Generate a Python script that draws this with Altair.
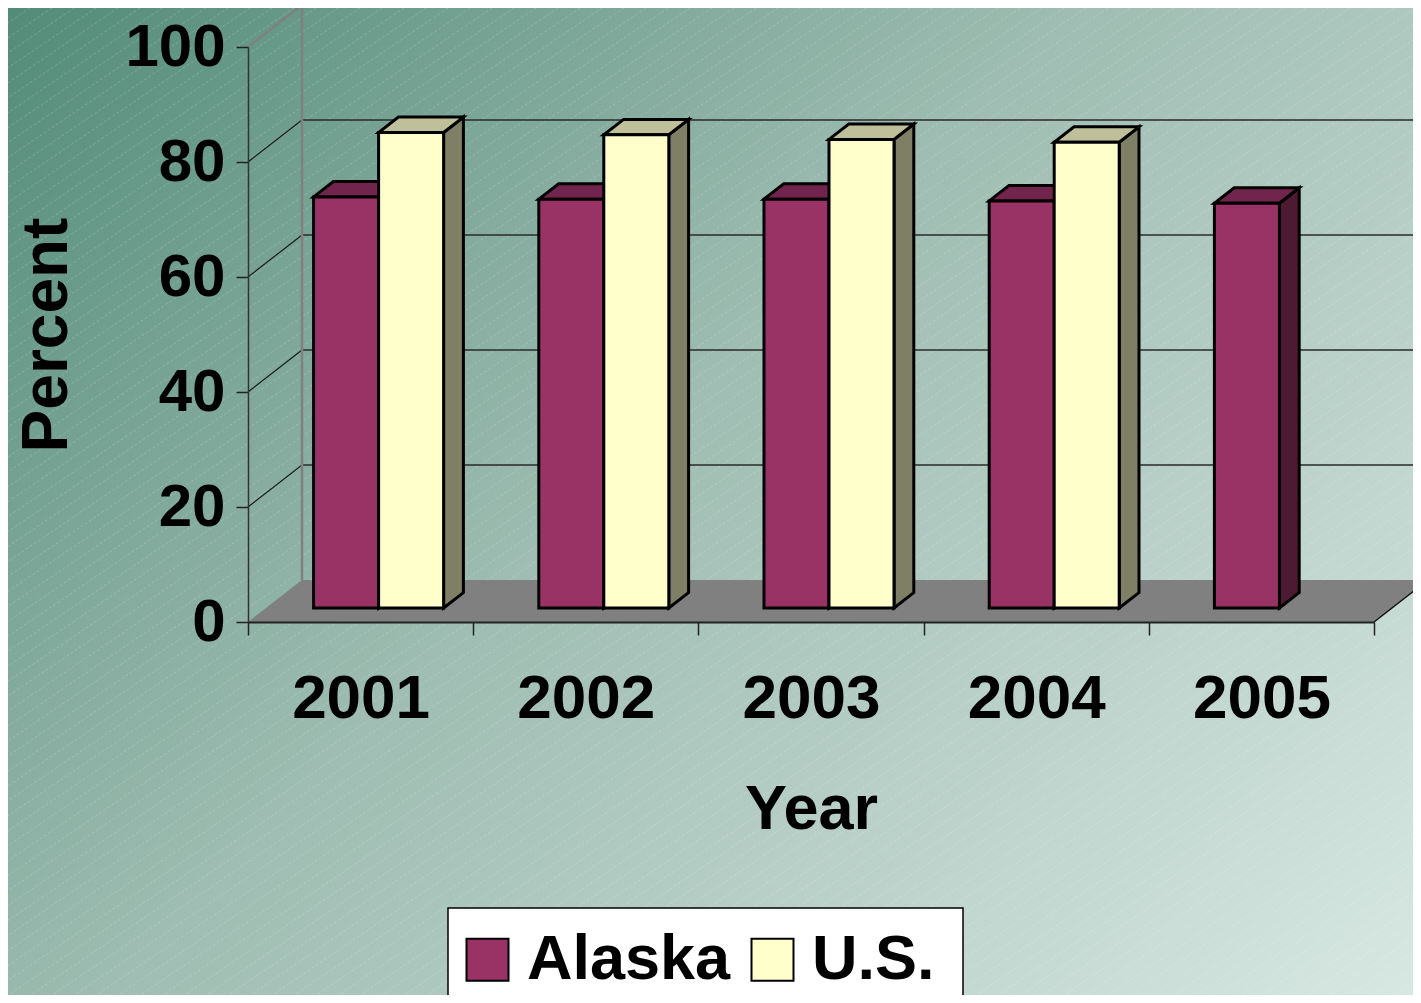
import altair as alt
import pandas as pd

# ---------------- data ----------------
years = ["2001", "2002", "2003", "2004", "2005"]
alaska = [71.5, 71.1, 71.1, 70.8, 70.4]
us = [82.7, 82.3, 81.5, 81.0, None]
series_names = ["Alaska", "U.S."]
y_ticks = [0, 20, 40, 60, 80, 100]

# ---------------- layout / style ----------------
PLOT_W, PLOT_H = 1126, 575
PAD_L, PAD_T = 240, 39
TOTAL_W, TOTAL_H = 1405, 987
N = len(years)
DX = 54 / PLOT_W * N          # full 3-D depth, x data units
DY = 42 / PLOT_H * 100        # full 3-D depth, y data units
F1, F2 = 1 / 3, 0.70          # bar front / back depth fractions
BW = 65 / (PLOT_W / N)        # bar width in x units
SDX, SDY = (F2 - F1) * DX, (F2 - F1) * DY

FONT = "Liberation Sans"
face_colors = {
    "Alaska": {"front": "#993366", "top": "#72254c", "side": "#4c1a33"},
    "U.S.": {"front": "#ffffcc", "top": "#bfbf99", "side": "#7f7f66"},
}


def px2x(px):
    return px * N / PLOT_W


def py2y(py):
    return 100 - py * 100 / PLOT_H


# ---------------- derived tables ----------------
front_rows, top_rows, side_rows = [], [], []
for i, yr in enumerate(years):
    c = i + 0.5 + F1 * DX
    for s, vals in zip(series_names, [alaska, us]):
        v = vals[i]
        if v is None:
            continue
        xl = c - BW if s == "Alaska" else c
        xr = xl + BW
        yb = F1 * DY
        yt = v + F1 * DY
        front_rows.append(dict(series=s, year=yr, x=xl, x2=xr, y=yb, y2=yt))
        for px, lo, hi in [(xl, yt, yt), (xl + SDX, yt, yt + SDY),
                           (xr, yt, yt + SDY), (xr + SDX, yt + SDY, yt + SDY)]:
            top_rows.append(dict(series=s, year=yr, x=px, y=lo, y2=hi))
        for px, lo, hi in [(xr, yb, yt), (xr + SDX, yb + SDY, yt + SDY)]:
            side_rows.append(dict(series=s, year=yr, x=px, y=lo, y2=hi))
front_df = pd.DataFrame(front_rows)
top_df = pd.DataFrame(top_rows)
side_df = pd.DataFrame(side_rows)

floor_df = pd.DataFrame({"x": [0, DX, N, N + DX],
                         "y": [0, 0, 0, DY],
                         "y2": [0, DY, DY, DY]})
floor_edge_df = pd.DataFrame([dict(x=N, y=0, x2=N + DX, y2=DY)])
grid_df = pd.DataFrame([dict(x=DX, y=k + DY, x2=N + DX, y2=k + DY) for k in y_ticks[1:-1]])
diag_df = pd.DataFrame([dict(x=0, y=k, x2=DX, y2=k + DY) for k in y_ticks[1:-1]])
edge_df = pd.DataFrame([
    dict(x=0, y=100, x2=DX, y2=100 + DY),
    dict(x=DX, y=100 + DY, x2=N + DX, y2=100 + DY),
    dict(x=DX, y=DY, x2=DX, y2=100 + DY),
])

# background hatch (decorative texture), expressed in the chart's data units
SLOPE = 0.68
hatch_rows = []
span = TOTAL_H / SLOPE
k = 0
while k * 22 < TOTAL_W + span:
    c0 = k * 22
    hatch_rows.append(dict(x=px2x(c0 - PAD_L), y=py2y(-PAD_T),
                           x2=px2x(c0 - span - PAD_L), y2=py2y(TOTAL_H - PAD_T)))
    k += 1
hatch_df = pd.DataFrame(hatch_rows)

# ---------------- scales / axes ----------------
x_scale = alt.Scale(domain=[0, N], nice=False, zero=False)
y_scale = alt.Scale(domain=[0, 100], nice=False, zero=False)
year_expr = "[" + ",".join(f"'{y}'" for y in years) + "]"
x_axis = alt.Axis(
    values=list(range(N + 1)),
    labelExpr=f"datum.value < {N} ? {year_expr}[datum.value] : ''",
    labelOffset=PLOT_W / N / 2, labelFlush=False, labelOverlap=False,
    labelFont=FONT, labelFontSize=62, labelFontWeight="bold", labelColor="black",
    labelBaseline="alphabetic", labelPadding=82,
    tickSize=13, tickColor="#222222", tickWidth=1.5,
    domainColor="#222222", domainWidth=2, grid=False, zindex=1,
    title="Year", titleFont=FONT, titleFontSize=63, titleFontWeight="bold",
    titleColor="black", titleX=PLOT_W / 2, titleY=206, titleBaseline="alphabetic",
    titleAlign="center",
)
y_axis = alt.Axis(
    values=y_ticks, labelFlush=False, labelOverlap=False,
    labelFont=FONT, labelFontSize=60, labelFontWeight="bold", labelColor="black",
    labelPadding=11, tickSize=12, tickColor="#222222", tickWidth=1.5,
    domainColor="#333333", domainWidth=1.5, grid=False, zindex=1,
    title="Percent", titleFont=FONT, titleFontSize=64, titleFontWeight="bold",
    titleColor="black", titleAngle=270, titleX=-182, titleY=PLOT_H / 2,
    titleBaseline="alphabetic", titleAlign="center",
)


def X(f):
    return alt.X(f"{f}:Q", scale=x_scale, axis=x_axis)


def Y(f):
    return alt.Y(f"{f}:Q", scale=y_scale, axis=y_axis)


# ---------------- layers ----------------
one = pd.DataFrame({"a": [0]})
bg = alt.Chart(one).mark_rect(
    fill=alt.Gradient(
        gradient="linear",
        stops=[alt.GradientStop(color="#528b78", offset=0),
               alt.GradientStop(color="#9fbdb2", offset=0.45),
               alt.GradientStop(color="#d7e7e2", offset=1)],
        x1=0, y1=0, x2=1.14, y2=0.79),
).encode(x=alt.value(-PAD_L), x2=alt.value(TOTAL_W - PAD_L),
         y=alt.value(-PAD_T), y2=alt.value(TOTAL_H - PAD_T))

hatch = alt.Chart(hatch_df).mark_rule(color="white", opacity=0.18, strokeWidth=1,
                                      strokeDash=[3, 2]).encode(
    x=X("x"), y=Y("y"), x2="x2", y2="y2")

floor = alt.Chart(floor_df).mark_area(fill="#808080", opacity=1).encode(
    x=X("x"), y=Y("y"), y2="y2")
floor_edge = alt.Chart(floor_edge_df).mark_rule(color="#111111", strokeWidth=1.5).encode(
    x=X("x"), y=Y("y"), x2="x2", y2="y2")
grid = alt.Chart(grid_df).mark_rule(color="#2a2a2a", strokeWidth=1.5).encode(
    x=X("x"), y=Y("y"), x2="x2", y2="y2")
diag = alt.Chart(diag_df).mark_rule(color="#1a1a1a", strokeWidth=1.2).encode(
    x=X("x"), y=Y("y"), x2="x2", y2="y2")
edges = alt.Chart(edge_df).mark_rule(color="#808080", strokeWidth=2.5).encode(
    x=X("x"), y=Y("y"), x2="x2", y2="y2")

# legend frame (white box behind the legend entries)
legend_box = alt.Chart(one).mark_rect(fill="white", stroke="black", strokeWidth=1.5).encode(
    x=alt.value(200), x2=alt.value(715), y=alt.value(861), y2=alt.value(TOTAL_H - PAD_T + 10))

legend = alt.Legend(
    orient="none", legendX=208, legendY=881, direction="horizontal", title=None,
    labelFont=FONT, labelFontSize=63, labelFontWeight="bold", labelColor="black",
    labelLimit=0, symbolType="square", symbolSize=1764, symbolStrokeColor="black",
    symbolStrokeWidth=2, symbolOpacity=1, labelOffset=8, columnPadding=10,
    padding=0, cornerRadius=0,
)
fill_enc = alt.Fill("series:N",
                    scale=alt.Scale(domain=series_names,
                                    range=[face_colors[s]["front"] for s in series_names]),
                    legend=legend)

bar_layers = []
for s in series_names:
    fc = face_colors[s]
    side = alt.Chart(side_df[side_df.series == s]).mark_area(
        fill=fc["side"], stroke="black", strokeWidth=3, opacity=1).encode(
        x=X("x"), y=Y("y"), y2="y2", detail="year:N")
    top = alt.Chart(top_df[top_df.series == s]).mark_area(
        fill=fc["top"], stroke="black", strokeWidth=3, opacity=1).encode(
        x=X("x"), y=Y("y"), y2="y2", detail="year:N")
    front = alt.Chart(front_df[front_df.series == s]).mark_rect(
        stroke="black", strokeWidth=3, opacity=1).encode(
        x=X("x"), x2="x2", y=Y("y"), y2="y2", fill=fill_enc)
    bar_layers += [side, top, front]

chart = alt.layer(bg, hatch, floor, floor_edge, grid, diag, edges, legend_box,
                  *bar_layers).properties(
    width=PLOT_W, height=PLOT_H,
    autosize=alt.AutoSizeParams(type="none"),
    padding={"left": PAD_L, "top": PAD_T, "right": TOTAL_W - PAD_L - PLOT_W,
             "bottom": TOTAL_H - PAD_T - PLOT_H},
).configure_view(stroke=None).configure(font=FONT, background="#d7e7e2")

chart.save("out.html", embed_options={"renderer": "svg", "actions": False})
